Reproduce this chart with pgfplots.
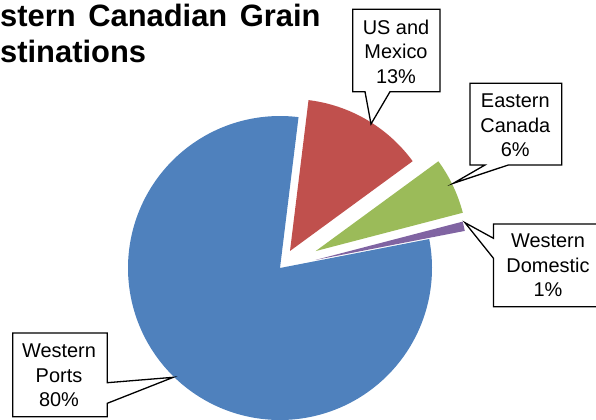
\documentclass[border=0pt]{standalone}
\usepackage{fontspec}
\setmainfont{Liberation Sans}
\usepackage{pgfplots}
\pgfplotsset{compat=1.18}
\definecolor{cWP}{HTML}{4F81BD}
\definecolor{cUS}{HTML}{C0504D}
\definecolor{cEC}{HTML}{9BBB59}
\definecolor{cWD}{HTML}{8064A2}

% shares in percent, clockwise from the top
\def\pUS{13}
\def\pEC{6}
\def\pWD{1}
\def\pWP{80}
% explosion as a fraction of the radius
\def\eUS{0.13}
\def\eEC{0.26}
\def\eWD{0.24}
\def\eWP{0}

\def\R{152}
\def\cx{280}
\def\cy{268}
\pgfmathsetmacro{\aA}{83}
\pgfmathsetmacro{\aB}{\aA-3.6*\pUS}
\pgfmathsetmacro{\aC}{\aB-3.6*\pEC}
\pgfmathsetmacro{\aD}{\aC-3.6*\pWD}
\pgfmathsetmacro{\aE}{\aD-3.6*\pWP}
% apex of each slice
\pgfmathsetmacro{\xUS}{\cx+\eUS*\R*cos((\aA+\aB)/2)}
\pgfmathsetmacro{\yUS}{\cy-\eUS*\R*sin((\aA+\aB)/2)}
\pgfmathsetmacro{\xEC}{\cx+\eEC*\R*cos((\aB+\aC)/2)}
\pgfmathsetmacro{\yEC}{\cy-\eEC*\R*sin((\aB+\aC)/2)}
\pgfmathsetmacro{\xWD}{\cx+\eWD*\R*cos((\aC+\aD)/2)}
\pgfmathsetmacro{\yWD}{\cy-\eWD*\R*sin((\aC+\aD)/2)}
\pgfmathsetmacro{\xWP}{\cx+\eWP*\R*cos((\aD+\aE)/2)}
\pgfmathsetmacro{\yWP}{\cy-\eWP*\R*sin((\aD+\aE)/2)}

\tikzset{
  callout/.style={draw=black, line width=1.3bp, fill=white, line join=miter},
  lbl/.style={align=center, inner sep=0pt, font=\fontsize{20}{24.5}\selectfont},
  ttl/.style={anchor=base west, inner sep=0pt, font=\fontsize{31}{36}\bfseries\selectfont}
}

\begin{document}
\begin{tikzpicture}
\useasboundingbox (0,0) rectangle (596bp,420bp);
\clip (0,0) rectangle (596bp,420bp);
\begin{axis}[
  at={(0,0)}, anchor=south west,
  scale only axis,
  width=596bp, height=420bp,
  xmin=0, xmax=596, ymin=0, ymax=420,
  y dir=reverse,
  hide axis,
  clip=false
]
% slices
\addplot[fill=cUS, draw=none, domain=\aB:\aA, samples=60]
  ({\xUS+\R*cos(x)},{\yUS-\R*sin(x)}) -- (axis cs:\xUS,\yUS) -- cycle;
\addplot[fill=cEC, draw=none, domain=\aC:\aB, samples=30]
  ({\xEC+\R*cos(x)},{\yEC-\R*sin(x)}) -- (axis cs:\xEC,\yEC) -- cycle;
\addplot[fill=cWD, draw=none, domain=\aD:\aC, samples=10]
  ({\xWD+\R*cos(x)},{\yWD-\R*sin(x)}) -- (axis cs:\xWD,\yWD) -- cycle;
\addplot[fill=cWP, draw=none, domain=\aE:\aD, samples=240]
  ({\xWP+\R*cos(x)},{\yWP-\R*sin(x)}) -- (axis cs:\xWP,\yWP) -- cycle;

% title (its left part runs off the picture, as in the source)
\node[ttl] at (axis cs:0,26.5) {\llap{We}stern\hspace{4bp} Canadian\hspace{4bp} Grain};
\node[ttl] at (axis cs:0,62) {\llap{De}stinations};

% callouts
\draw[callout] (axis cs:352.7,9.3) -- (axis cs:440,9.3) -- (axis cs:440,91.7)
  -- (axis cs:390,91.7) -- (axis cs:371,124) -- (axis cs:365,91.7)
  -- (axis cs:352.7,91.7) -- cycle;
\node[lbl] at (axis cs:396,51.5) {US and\\Mexico\\13\%};

\draw[callout] (axis cs:470,83.3) -- (axis cs:561.7,83.3) -- (axis cs:561.7,165)
  -- (axis cs:508.3,165) -- (axis cs:453.3,183.3) -- (axis cs:485,165)
  -- (axis cs:470,165) -- cycle;
\node[lbl] at (axis cs:515.3,125.5) {Eastern\\Canada\\6\%};

\draw[callout] (axis cs:493.5,224) -- (axis cs:603,224) -- (axis cs:603,306.7)
  -- (axis cs:493.5,306.7) -- (axis cs:493.5,258.3) -- (axis cs:465,222.7)
  -- (axis cs:493.5,238.3) -- cycle;
\node[lbl] at (axis cs:548,265.5) {Western\\Domestic\\1\%};

\draw[callout] (axis cs:12.7,333) -- (axis cs:107.3,333) -- (axis cs:107.3,382.7)
  -- (axis cs:173.3,377.3) -- (axis cs:107.3,403.3) -- (axis cs:107.3,416.7)
  -- (axis cs:12.7,416.7) -- cycle;
\node[lbl] at (axis cs:59,375.5) {Western\\Ports\\80\%};
\end{axis}
\end{tikzpicture}
\end{document}
